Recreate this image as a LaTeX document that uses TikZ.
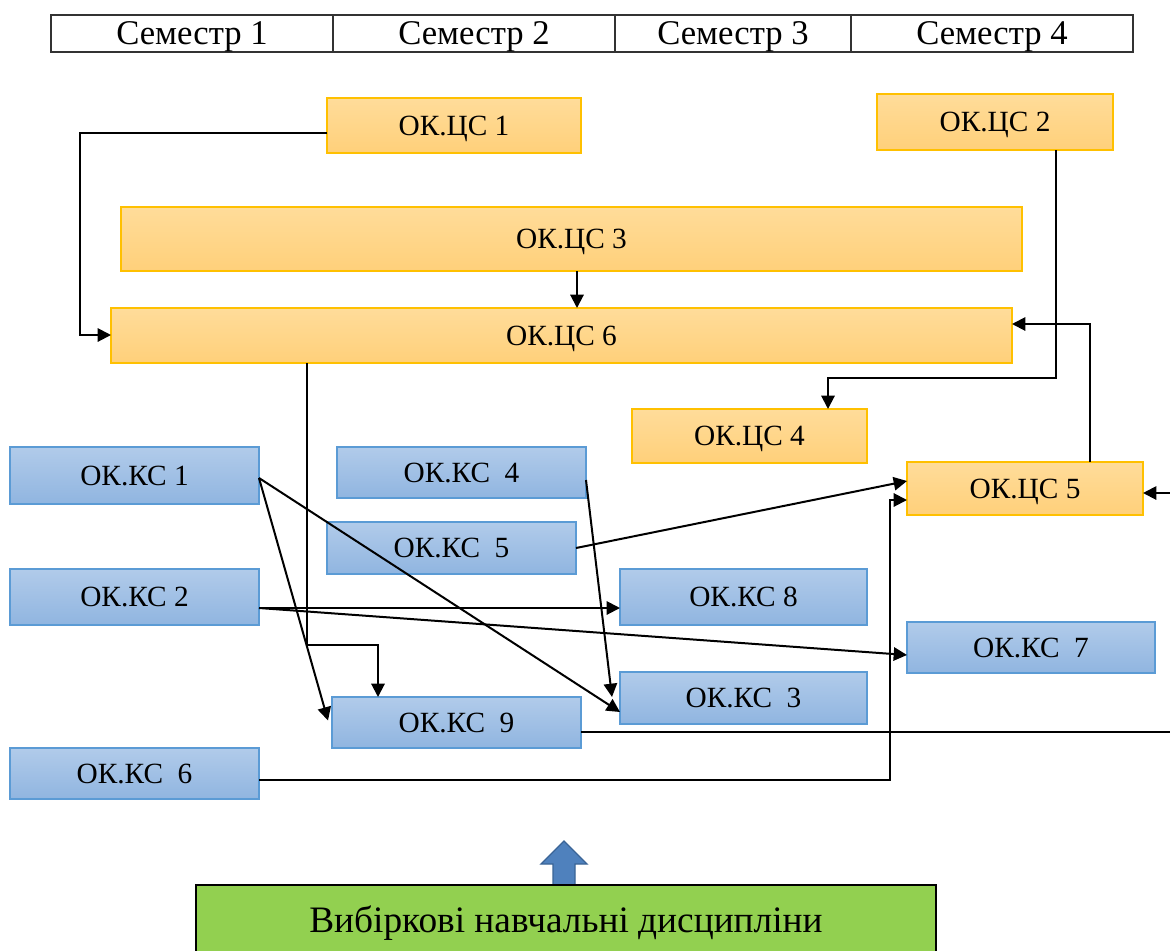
\documentclass[tikz,border=0pt]{standalone}
\usepackage{fontspec}
\setmainfont{Liberation Serif}
\usetikzlibrary{arrows.meta,calc}
\definecolor{obord}{HTML}{FFC000}
\definecolor{otop}{HTML}{FFDC9A}
\definecolor{obot}{HTML}{FFD07A}
\definecolor{bbord}{HTML}{5B9BD5}
\definecolor{btop}{HTML}{B1CBEA}
\definecolor{bbot}{HTML}{90B5E0}
\definecolor{gfill}{HTML}{92D050}
\definecolor{afill}{HTML}{4F81BD}
\definecolor{abord}{HTML}{3A6496}
\tikzset{
  sz/.style 2 args={minimum width=#1*0.75pt, minimum height=#2*0.75pt},
  box/.style={rectangle, inner sep=0pt, outer sep=0pt, text height=14.5pt, text depth=0pt, font=\fontsize{22}{24}\selectfont},
  obox/.style={box, draw=obord, line width=1pt, top color=otop, bottom color=obot},
  kbox/.style={box, draw=bbord, line width=1pt, top color=btop, bottom color=bbot},
  hdr/.style={rectangle, draw=black!80, line width=1pt, inner sep=0pt, outer sep=0pt, text height=17.2pt, text depth=0pt, font=\fontsize{26}{28}\selectfont},
  gbox/.style={rectangle, draw=black, line width=1.5pt, fill=gfill, inner sep=0pt, outer sep=0pt, text height=18.5pt, text depth=0pt, font=\fontsize{28}{30}\selectfont},
  arr/.style={line width=1.5pt, -{Triangle[length=10pt,width=10pt]}},
  ln/.style={line width=1.5pt}
}
\begin{document}
\begin{tikzpicture}[x=0.75pt,y=-0.75pt]
\useasboundingbox (0,0) rectangle (1170,950);
\fill[white] (0,0) rectangle (1170,950);
% header
\node[hdr, sz={282}{37}] (s1) at (192,33.5) {Семестр 1};
\node[hdr, sz={282}{37}] (s2) at (474,33.5) {Семестр 2};
\node[hdr, sz={236}{37}] (s3) at (733,33.5) {Семестр 3};
\node[hdr, sz={282}{37}] (s4) at (992,33.5) {Семестр 4};
% orange boxes
\node[obox, sz={254}{55}] (c1) at (454,125.5) {ОК.ЦС 1};
\node[obox, sz={236}{56}] (c2) at (995,122) {ОК.ЦС 2};
\node[obox, sz={901}{64}] (c3) at (571.5,239) {ОК.ЦС 3};
\node[obox, sz={901}{55}] (c6) at (561.5,335.5) {ОК.ЦС 6};
\node[obox, sz={235}{54}] (c4) at (749.5,436) {ОК.ЦС 4};
\node[obox, sz={236}{53}] (c5) at (1025,488.5) {ОК.ЦС 5};
% blue boxes
\node[kbox, sz={249}{57}] (k1) at (134.5,475.5) {ОК.КС 1};
\node[kbox, sz={249}{51}] (k4) at (461.5,472.5) {ОК.КС\ \ 4};
\node[kbox, sz={249}{52}] (k5) at (451.5,548) {ОК.КС\ \ 5};
\node[kbox, sz={249}{56}] (k2) at (134.5,597) {ОК.КС 2};
\node[kbox, sz={247}{56}] (k8) at (743.5,597) {ОК.КС 8};
\node[kbox, sz={248}{51}] (k7) at (1031,647.5) {ОК.КС\ \ 7};
\node[kbox, sz={247}{52}] (k3) at (743.5,698) {ОК.КС\ \ 3};
\node[kbox, sz={249}{51}] (k9) at (456.5,722.5) {ОК.КС\ \ 9};
\node[kbox, sz={249}{51}] (k6) at (134.5,773.5) {ОК.КС\ \ 6};
% free ends at the right edge
\coordinate (outA) at (1170,732);
\coordinate (outB) at (1170,493);
% connectors
\draw[arr] (c1.west |- 0,133) -| (80,335) -- (c6.west |- 0,335);
\draw[arr] (c3.south -| 577,0) -- (c6.north -| 577,0);
\draw[arr] (c2.south -| 1056,0) |- (828,378) -- (c4.north -| 828,0);
\draw[arr] (c5.north -| 1090,0) |- (c6.east |- 0,324);
\draw[arr] (c6.south -| 307,0) |- (378,645) -- (k9.north -| 378,0);
\draw[arr] (k1.east |- 0,478) -- ($(k9.west)+(-4,-2)$);
\draw[arr] (k1.east |- 0,478) -- (k3.west |- 0,712);
\draw[arr] (k4.east |- 0,480) -- ($(k3.west |- 0,697)+(-8,0)$);
\draw[arr] (k5.east) -- (c5.west |- 0,481);
\draw[arr] (k6.east |- 0,780) -| (890,500) -- (c5.west |- 0,500);
\draw[arr] (k2.east |- 0,608) -- (k8.west |- 0,608);
\draw[arr] (k2.east |- 0,608) -- (k7.west |- 0,655);
\draw[ln] (k9.east |- 0,732) -- (outA);
\draw[arr] (outB) -- (c5.east |- 0,493);
% block arrow
\filldraw[fill=afill, draw=abord, line width=1pt]
  (553,886) -- (553,864) -- (541,864) -- (564,841) -- (587,864) -- (575,864) -- (575,886) -- cycle;
% green box
\node[gbox, sz={740}{70}] (g) at (566,920) {Вибіркові навчальні дисципліни};
\end{tikzpicture}
\end{document}
